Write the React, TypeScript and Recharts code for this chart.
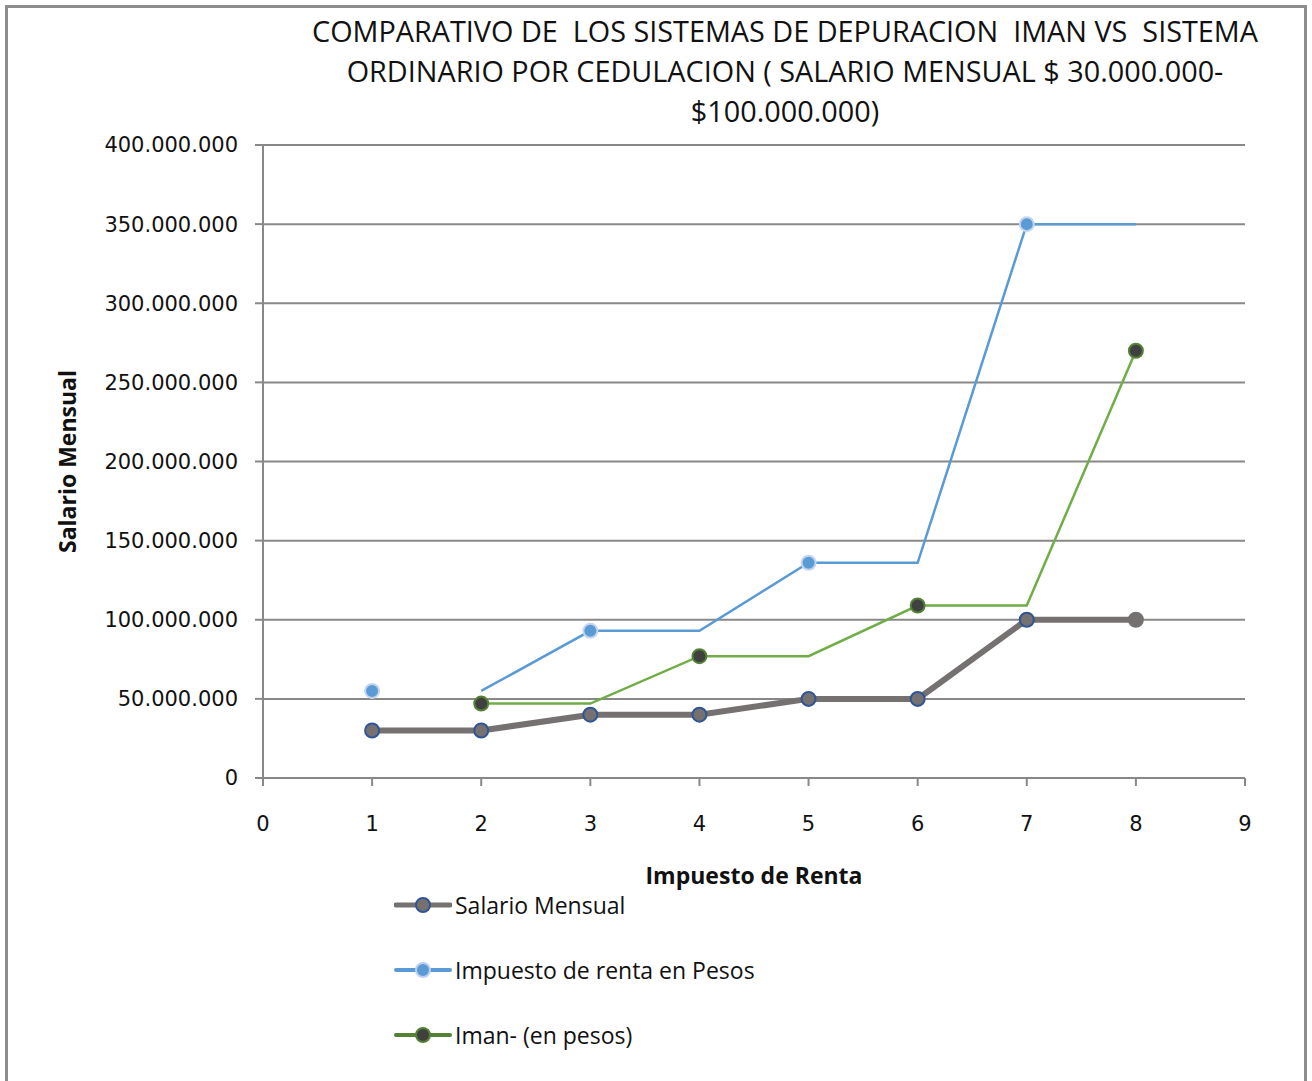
import React from 'react';
import { LineChart, Line, XAxis, YAxis, CartesianGrid, Legend, Label } from 'recharts';

// x positions (1..8) and series values, in pesos
const puntos = [1, 2, 3, 4, 5, 6, 7, 8];
const salarioMensual = [30000000, 30000000, 40000000, 40000000, 50000000, 50000000, 100000000, 100000000];
// the blue line starts at x=2; markers only at odd x
const impuestoLinea = [null, 55000000, 93000000, 93000000, 136000000, 136000000, 350000000, 350000000];
const impuestoPunto = [55000000, null, 93000000, null, 136000000, null, 350000000, null];
// the green line starts at x=2; markers only at even x
const imanLinea = [null, 47000000, 47000000, 77000000, 77000000, 109000000, 109000000, 270000000];
const imanPunto = [null, 47000000, null, 77000000, null, 109000000, null, 270000000];

const xTicks = [0, 1, 2, 3, 4, 5, 6, 7, 8, 9];
const yTicks = [0, 50000000, 100000000, 150000000, 200000000, 250000000, 300000000, 350000000, 400000000];

const TITLE = [
  'COMPARATIVO DE  LOS SISTEMAS DE DEPURACION  IMAN VS  SISTEMA',
  'ORDINARIO POR CEDULACION ( SALARIO MENSUAL $ 30.000.000-',
  '$100.000.000)',
];

const legendItems = [
  { name: 'Salario Mensual', line: '#767171', width: 5, fill: '#767171', stroke: '#2F5597' },
  { name: 'Impuesto de renta en Pesos', line: '#5B9BD5', width: 4, fill: '#5B9BD5', stroke: '#BDD0EC' },
  { name: 'Iman- (en pesos)', line: '#548235', width: 4, fill: '#404040', stroke: '#548235' },
];

const data = puntos.map((x, i) => ({
  x,
  salario: salarioMensual[i],
  impuestoLinea: impuestoLinea[i],
  impuestoPunto: impuestoPunto[i],
  imanLinea: imanLinea[i],
  imanPunto: imanPunto[i],
}));

const FONT = '"Open Sans", sans-serif';
const TICK_FONT = '"DejaVu Sans", sans-serif';
const fmt = (v: number) => v.toLocaleString('de-DE');

const SalarioDot = (props: any) => {
  const { cx, cy, index } = props;
  if (cx == null || cy == null) return null;
  const last = index === puntos.length - 1;
  return (
    <circle key={`s-${index}`} cx={cx} cy={cy} r={7} fill="#767171"
      stroke={last ? '#767171' : '#2F5597'} strokeWidth={2} />
  );
};

const renderLegend = () => (
  <div style={{ fontFamily: FONT }}>
    {legendItems.map((it) => (
      <div key={it.name} style={{ display: 'flex', alignItems: 'center', height: 65 }}>
        <svg width={58} height={20}>
          <line x1={2} y1={10} x2={56} y2={10} stroke={it.line} strokeWidth={it.width} strokeLinecap="round" />
          <circle cx={29} cy={10} r={7} fill={it.fill} stroke={it.stroke} strokeWidth={2} />
        </svg>
        <span style={{ fontSize: 23, color: '#111', marginLeft: 3 }}>{it.name}</span>
      </div>
    ))}
  </div>
);

export default function App() {
  return (
    <div style={{ position: 'absolute', left: 0, top: 0, width: 1312, height: 1081, overflow: 'hidden', background: '#fff' }}>
      <div style={{ position: 'absolute', left: 5, top: 5, width: 1296, height: 1100, border: '3px solid #8c8c8c' }} />
      <div style={{ position: 'absolute', left: 260, top: 11, width: 1050, textAlign: 'center', fontFamily: FONT, fontSize: 28.8, lineHeight: '40px', color: '#111' }}>
        {TITLE.map((t) => <div key={t} style={{ whiteSpace: 'pre' }}>{t}</div>)}
      </div>
      <div style={{ position: 'absolute', left: 0, top: 0 }}>
        <LineChart width={1312} height={1081} data={data}
          margin={{ top: 145, right: 67, bottom: 207, left: 63 }}>
          <CartesianGrid horizontal vertical={false} stroke="#888" strokeWidth={2} />
          <XAxis dataKey="x" type="number" domain={[0, 9]} ticks={xTicks} interval={0}
            axisLine={{ stroke: '#888', strokeWidth: 2 }} tickLine={{ stroke: '#888', strokeWidth: 2 }}
            tickSize={8} tickMargin={30} tick={{ fill: '#111', fontSize: 21, fontFamily: TICK_FONT }} height={96}>
            <Label value="Impuesto de Renta" position="insideBottom" offset={-10}
              style={{ fontFamily: FONT, fontSize: 23, fontWeight: 700, fill: '#111' }} />
          </XAxis>
          <YAxis type="number" domain={[0, 400000000]} ticks={yTicks} interval={0} width={200}
            tickFormatter={fmt}
            axisLine={{ stroke: '#888', strokeWidth: 2 }} tickLine={{ stroke: '#888', strokeWidth: 2 }}
            tickSize={8} tickMargin={17} tick={{ fill: '#111', fontSize: 21, fontFamily: TICK_FONT }}>
            <Label value="Salario Mensual" angle={-90} position="insideLeft" offset={5}
              style={{ fontFamily: FONT, fontSize: 23, fontWeight: 700, fill: '#111', textAnchor: 'middle' }} />
          </YAxis>
          <Legend layout="horizontal" verticalAlign="middle" align="center" content={renderLegend}
            wrapperStyle={{ left: 394, top: 872, width: 420, height: 200 }} />
          <Line name="Salario Mensual" dataKey="salario" stroke="#767171" strokeWidth={6}
            dot={SalarioDot} activeDot={false} isAnimationActive={false} legendType="none" />
          <Line name="Impuesto de renta en Pesos" dataKey="impuestoLinea" stroke="#5B9BD5" strokeWidth={2.5}
            dot={false} activeDot={false} isAnimationActive={false} legendType="none" />
          <Line name="Iman- (en pesos)" dataKey="imanLinea" stroke="#70AD47" strokeWidth={2.5}
            dot={false} activeDot={false} isAnimationActive={false} legendType="none" />
          <Line dataKey="impuestoPunto" stroke="none" strokeWidth={0}
            dot={{ r: 7, fill: '#5B9BD5', stroke: '#C5D5EE', strokeWidth: 2 }}
            activeDot={false} isAnimationActive={false} legendType="none" />
          <Line dataKey="imanPunto" stroke="none" strokeWidth={0}
            dot={{ r: 7, fill: '#404040', stroke: '#548235', strokeWidth: 2 }}
            activeDot={false} isAnimationActive={false} legendType="none" />
        </LineChart>
      </div>
    </div>
  );
}
